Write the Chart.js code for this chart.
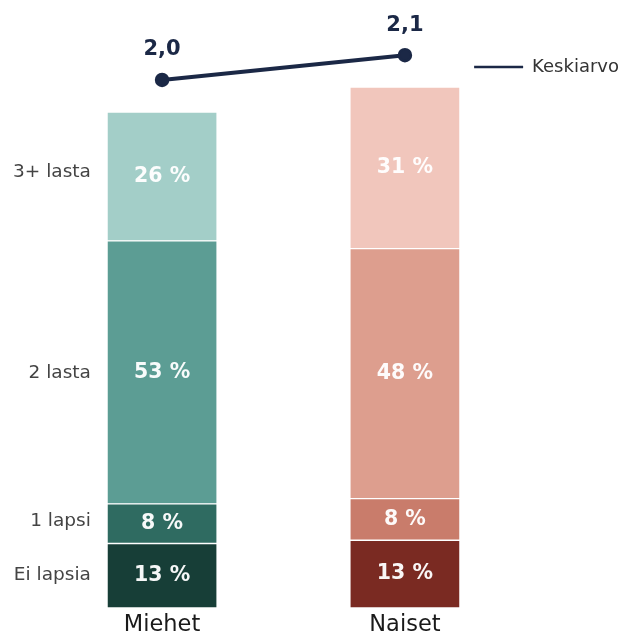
<!DOCTYPE html>
<html>
<head>
<meta charset="utf-8">
<script src="https://cdn.jsdelivr.net/npm/chart.js@4.4.1/dist/chart.umd.min.js"></script>
<style>
    html, body { margin: 0; padding: 0; background: #ffffff; }
    #wrap { width: 629px; height: 636px; }
</style>
</head>
<body>
<div id="wrap"><canvas id="lapsetChart"></canvas></div>
<script>
// groups on the x axis
const groups = ['Miehet', 'Naiset'];

// share of each group (%) by number of children
const childCats = ['Ei lapsia', '1 lapsi', '2 lasta', '3+ lasta'];
const eiLapsia = [13, 13];
const yksiLapsi = [8, 8];
const kaksiLasta = [53, 48];
const kolmeLasta = [26, 31];

// average number of children
const keskiarvo = [2.0, 2.1];

const menColors = ['#173e37', '#2f6b61', '#5c9d94', '#a3cec8'];
const womenColors = ['#7a2a22', '#c97c6b', '#dd9e8e', '#f1c6bc'];
const navy = '#1b2846';

const shares = [eiLapsia, yksiLapsi, kaksiLasta, kolmeLasta];

// each segment is drawn as share of the group's average, so bar height = average
function segValue(cat, g) {
    return shares[cat][g] / 100 * keskiarvo[g];
}

// y tick for each category label = mean of the segment centres of both bars
const catTicks = childCats.map((c, cat) => {
    let sum = 0;
    groups.forEach((g, gi) => {
        let below = 0;
        for (let k = 0; k < cat; k++) below += segValue(k, gi);
        sum += below + segValue(cat, gi) / 2;
    });
    return sum / groups.length;
});

const barSets = childCats.map((c, cat) => ({
    type: 'bar',
    label: c,
    data: groups.map((g, gi) => ({ x: gi, y: segValue(cat, gi) })),
    shares: shares[cat],
    backgroundColor: [menColors[cat], womenColors[cat]],
    borderColor: '#ffffff',
    borderWidth: 1,
    borderSkipped: false,
    barThickness: 110,
    yAxisID: 'y',
    clip: false
}));

const lineSet = {
    type: 'line',
    label: 'Keskiarvo',
    data: groups.map((g, gi) => ({ x: gi, y: keskiarvo[gi] })),
    borderColor: navy,
    backgroundColor: navy,
    borderWidth: 4,
    pointRadius: 6,
    pointBorderWidth: 2.5,
    pointBorderColor: navy,
    pointBackgroundColor: navy,
    yAxisID: 'y2',
    clip: false,
    order: -1
};

const labelPlugin = {
    id: 'valueLabels',
    afterDatasetsDraw(chart) {
        const ctx = chart.ctx;
        ctx.save();
        ctx.textAlign = 'center';
        ctx.textBaseline = 'middle';
        chart.data.datasets.forEach((ds, di) => {
            const meta = chart.getDatasetMeta(di);
            meta.data.forEach((el, i) => {
                if (ds.type === 'bar') {
                    ctx.font = 'bold 20.5px "DejaVu Sans"';
                    ctx.fillStyle = 'rgba(255,255,255,0.96)';
                    ctx.fillText(ds.shares[i] + ' %', el.x, (el.y + el.base) / 2);
                } else {
                    ctx.font = 'bold 21px "DejaVu Sans"';
                    ctx.fillStyle = navy;
                    ctx.fillText(keskiarvo[i].toFixed(1).replace('.', ','), el.x, el.y - 30);
                }
            });
        });
        ctx.restore();
    }
};

Chart.defaults.font.family = '"DejaVu Sans"';

new Chart(document.getElementById('lapsetChart'), {
    type: 'bar',
    data: {
        datasets: [...barSets, lineSet]
    },
    options: {
        responsive: true,
        maintainAspectRatio: false,
        animation: false,
        layout: {
            padding: { left: 4, top: 48, right: 0, bottom: -7 }
        },
        scales: {
            x: {
                type: 'linear',
                stacked: true,
                offset: false,
                min: -0.2562,
                max: 1.2438,
                grid: { display: false, drawTicks: false },
                border: { display: false },
                afterBuildTicks: axis => {
                    axis.ticks = groups.map((g, gi) => ({ value: gi }));
                },
                ticks: {
                    autoSkip: false,
                    padding: 6.25,
                    color: '#1a1a1a',
                    font: { size: 22.5, lineHeight: 1 },
                    callback: v => groups[v]
                }
            },
            y: {
                stacked: true,
                min: 0,
                max: 2.258,
                grid: { display: false, drawTicks: false },
                border: { display: false },
                afterBuildTicks: axis => {
                    axis.ticks = catTicks.map(v => ({ value: v }));
                },
                ticks: {
                    autoSkip: false,
                    padding: 9,
                    color: '#444444',
                    font: { size: 18.5 },
                    callback: (v, i) => childCats[i]
                }
            },
            y2: {
                display: false,
                min: -0.129,
                max: 2.129
            }
        },
        plugins: {
            legend: {
                position: 'right',
                align: 'start',
                maxWidth: 200,
                labels: {
                    usePointStyle: true,
                    pointStyle: 'line',
                    pointStyleWidth: 49,
                    padding: 10,
                    color: '#333333',
                    font: { size: 18 },
                    filter: item => item.text === 'Keskiarvo'
                }
            },
            tooltip: { enabled: false }
        }
    },
    plugins: [labelPlugin]
});
</script>
</body>
</html>
